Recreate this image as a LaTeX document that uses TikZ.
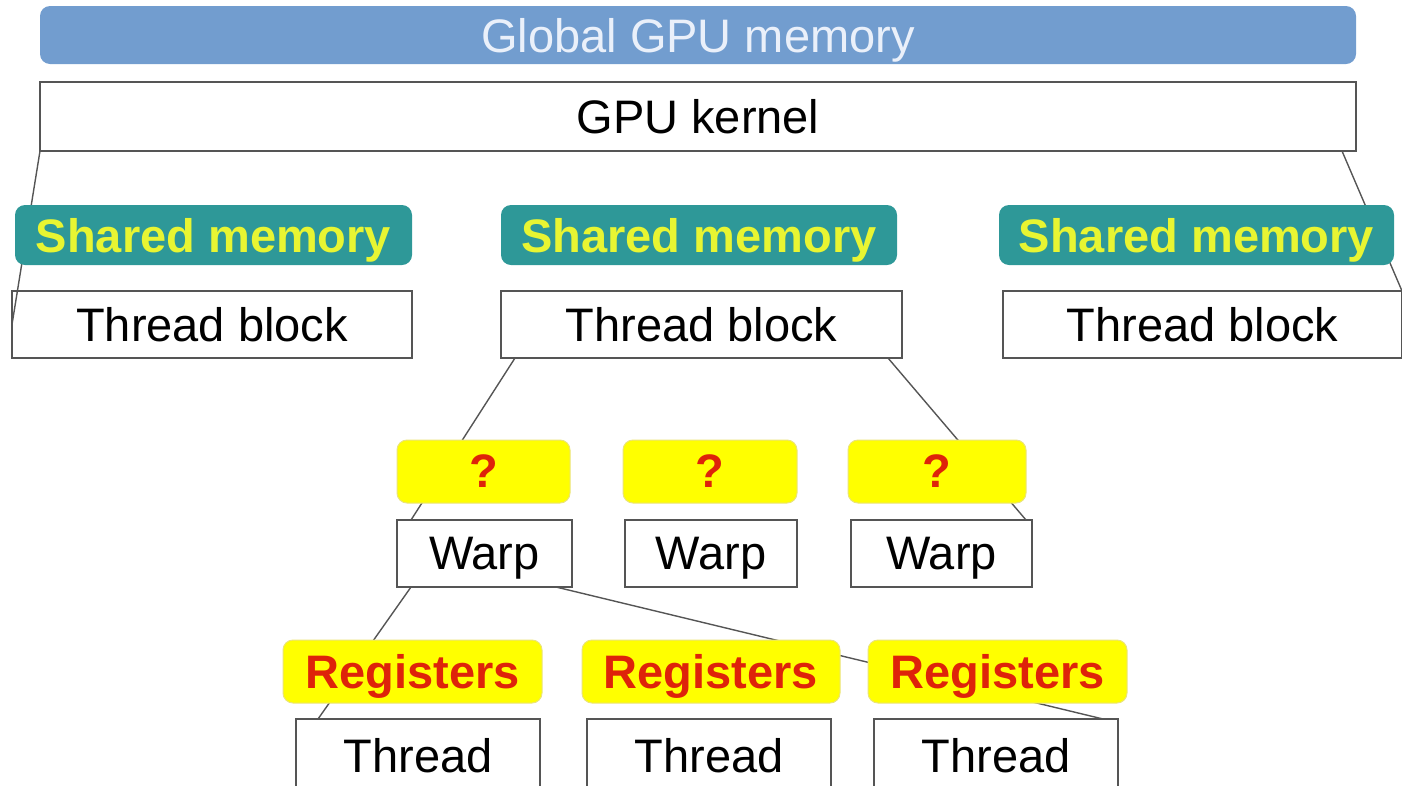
\documentclass[tikz,border=0pt]{standalone}
\usepackage{fontspec}
\setmainfont{Liberation Sans}
\begin{document}
\definecolor{gblue}{RGB}{114,157,207}
\definecolor{gbluetext}{RGB}{234,240,250}
\definecolor{teal2}{RGB}{46,152,152}
\definecolor{shyellow}{RGB}{232,245,50}
\definecolor{ybox}{RGB}{255,255,0}
\definecolor{yborder}{RGB}{235,228,120}
\definecolor{rtext}{RGB}{222,35,10}
\definecolor{lgray}{RGB}{85,85,85}
\begin{tikzpicture}[x=1pt,y=-1pt,
  every node/.style={inner sep=0pt, outer sep=0pt, text depth=0pt, font=\fontsize{47}{56}\selectfont},
  wbox/.style={draw=lgray, line width=1.6pt, fill=white, anchor=north west},
  bluebox/.style={fill=gblue, rounded corners=10pt, anchor=north west, text=gbluetext},
  tealbox/.style={fill=teal2, rounded corners=10pt, anchor=north west, text=shyellow, font=\fontsize{47}{56}\selectfont\bfseries},
  ylwbox/.style={fill=ybox, draw=yborder, line width=1pt, rounded corners=10pt, anchor=north west, text=rtext, font=\fontsize{47}{56}\selectfont\bfseries},
  link/.style={draw=lgray, line width=1.4pt}]
\useasboundingbox (0,0) rectangle (1402,785);
% plain boxes
\node[wbox, minimum width=1316, minimum height=69] (kernel) at (40,82) {GPU kernel};
\node[wbox, minimum width=400, minimum height=67] (tb1) at (12,291) {Thread block};
\node[wbox, minimum width=401, minimum height=67] (tb2) at (501,291) {Thread block};
\node[wbox, minimum width=399, minimum height=67] (tb3) at (1003,291) {Thread block};
\node[wbox, minimum width=175, minimum height=67] (warp1) at (397,520) {Warp};
\node[wbox, minimum width=172, minimum height=67] (warp2) at (625,520) {Warp};
\node[wbox, minimum width=181, minimum height=67] (warp3) at (851,520) {Warp};
\node[wbox, minimum width=244, minimum height=72] (th1) at (296,719) {Thread};
\node[wbox, minimum width=244, minimum height=72] (th2) at (587,719) {Thread};
\node[wbox, minimum width=244, minimum height=72] (th3) at (874,719) {Thread};
% connectors
\draw[link] (kernel.south west) -- (tb1.west);
\draw[link] ([xshift=-14pt]kernel.south east) -- (tb3.north east);
\draw[link] ([xshift=14pt]tb2.south west) -- ([xshift=14pt]warp1.north west);
\draw[link] ([xshift=-14pt]tb2.south east) -- ([xshift=-6pt]warp3.north east);
\draw[link] ([xshift=14pt]warp1.south west) -- ([xshift=22pt]th1.north west);
\draw[link] ([xshift=-16pt]warp1.south east) -- ([xshift=-15pt]th3.north east);
% coloured label boxes
\node[bluebox, minimum width=1316, minimum height=58] (global) at (40,6) {Global GPU memory};
\node[tealbox, minimum width=397, minimum height=60] (sm1) at (15,205) {Shared memory};
\node[tealbox, minimum width=396, minimum height=60] (sm2) at (501,205) {Shared memory};
\node[tealbox, minimum width=395, minimum height=60] (sm3) at (999,205) {Shared memory};
\node[ylwbox, minimum width=173, minimum height=63] (q1) at (397,440) {?};
\node[ylwbox, minimum width=174, minimum height=63] (q2) at (623,440) {?};
\node[ylwbox, minimum width=178, minimum height=63] (q3) at (848,440) {?};
\node[ylwbox, minimum width=259, minimum height=63] (r1) at (283,640) {Registers};
\node[ylwbox, minimum width=258, minimum height=63] (r2) at (582,640) {Registers};
\node[ylwbox, minimum width=259, minimum height=63] (r3) at (868,640) {Registers};
\end{tikzpicture}
\end{document}
